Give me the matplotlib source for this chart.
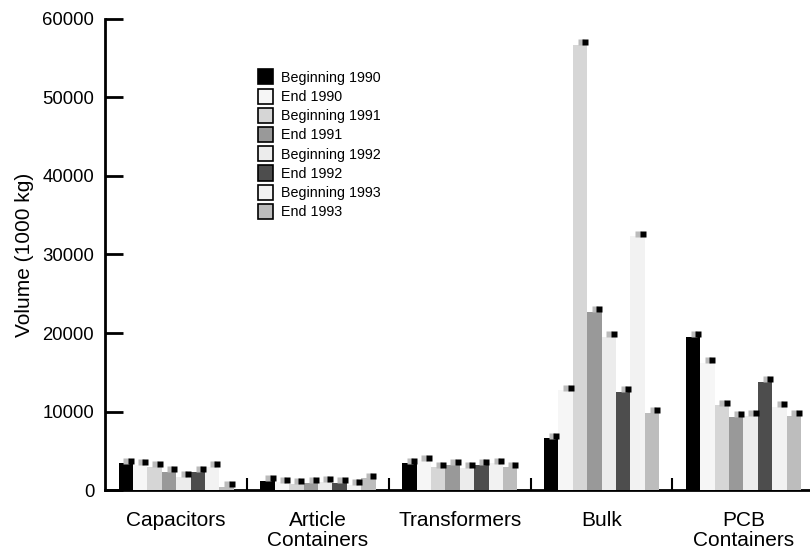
import numpy as np
import matplotlib
matplotlib.use('Agg')
import matplotlib.pyplot as plt
from matplotlib.patches import Patch

plt.rcParams['font.family'] = ['Liberation Sans', 'DejaVu Sans']

categories = ['Capacitors', 'Article\nContainers', 'Transformers', 'Bulk', 'PCB\nContainers']
series = ['Beginning 1990', 'End 1990', 'Beginning 1991', 'End 1991',
          'Beginning 1992', 'End 1992', 'Beginning 1993', 'End 1993']
colors = ['#000000', '#f6f6f6', '#d6d6d6', '#999999',
          '#ececec', '#4d4d4d', '#f2f2f2', '#bdbdbd']

# volumes (1000 kg), one list per category, in series order
capacitors = [3400, 3200, 3000, 2300, 1700, 2300, 3000, 400]
article_containers = [1200, 1000, 800, 900, 1100, 900, 700, 1500]
transformers = [3400, 3800, 2900, 3200, 2800, 3200, 3400, 2900]
bulk = [6600, 12700, 56700, 22700, 19500, 12500, 32300, 9800]
pcb_containers = [19500, 16200, 10800, 9300, 9500, 13800, 10600, 9500]

data = np.array([capacitors, article_containers, transformers, bulk, pcb_containers])

fig = plt.figure(figsize=(8.1, 5.52), dpi=100)
ax = fig.add_axes([0.13, 0.112, 0.87, 0.854])

x = np.arange(len(categories))
w = 0.1016
for k in range(len(series)):
    xs = x + (k - 3.5) * w
    ax.bar(xs, data[:, k], width=w, color=colors[k], zorder=3)
    # small markers at the top right of each bar
    ax.plot(xs + 0.05 * w, data[:, k] + 350, ls='none', marker='s', ms=4,
            color='#bbbbbb', mec='none', zorder=4)
    ax.plot(xs + 0.35 * w, data[:, k] + 350, ls='none', marker='s', ms=4,
            color='black', mec='none', zorder=5)

ax.set_xlim(-0.5, 4.47)
ax.set_ylim(0, 60000)
ax.set_yticks(np.arange(0, 60001, 10000))
ax.tick_params(axis='y', direction='in', length=13, width=2, labelsize=13.3, pad=8)
ax.set_xticks(x[:-1] + 0.5)
ax.set_xticklabels([])
ax.tick_params(axis='x', direction='in', length=9, width=1.5)
ax.set_xticks(x, minor=True)
ax.set_xticklabels(categories, minor=True, fontsize=15, linespacing=1.05)
ax.tick_params(axis='x', which='minor', length=0, pad=15)

for s in ['top', 'right']:
    ax.spines[s].set_visible(False)
for s in ['left', 'bottom']:
    ax.spines[s].set_linewidth(2)

ax.set_ylabel('Volume (1000 kg)', fontsize=15, labelpad=6)

handles = [Patch(facecolor=c, edgecolor='black', linewidth=1.2) for c in colors]
ax.legend(handles, series, loc='upper left', bbox_to_anchor=(0.206, 0.908),
          frameon=False, fontsize=10.3, handlelength=1.1, handleheight=1.25,
          handletextpad=0.5, labelspacing=0.27, borderpad=0)

fig.savefig('out.png', dpi=100)
